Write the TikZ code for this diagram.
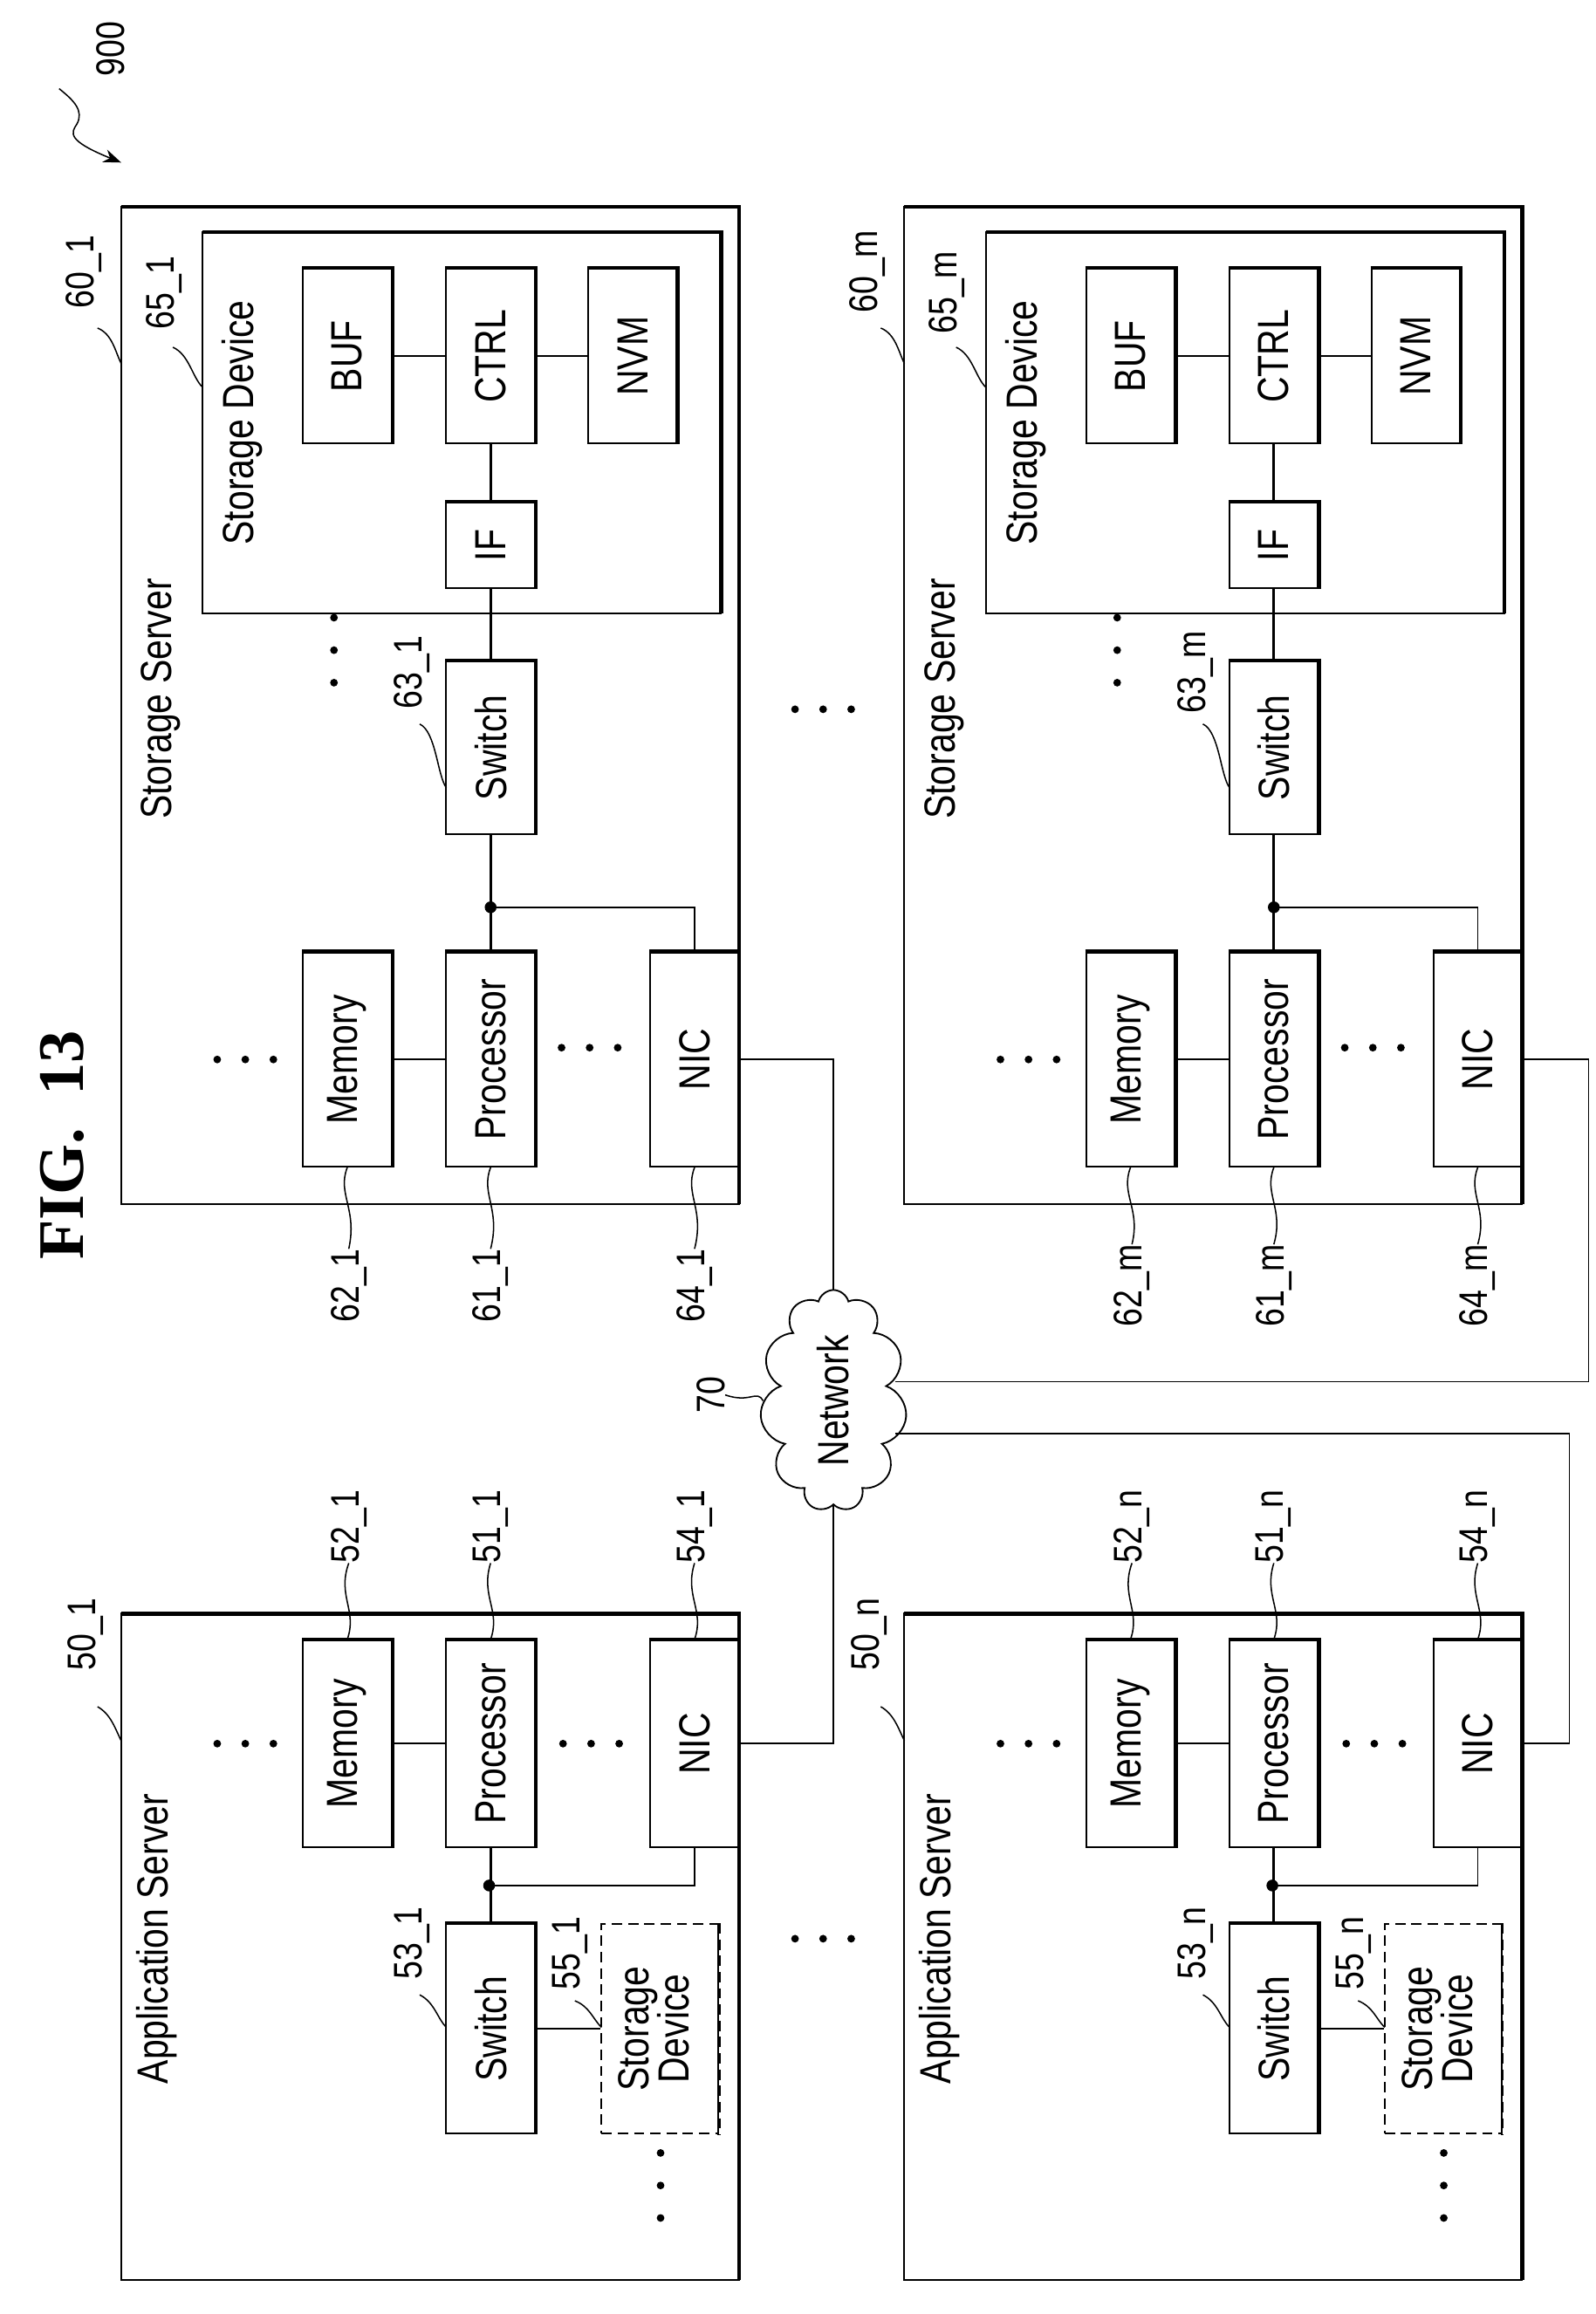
\documentclass[tikz,border=0pt]{standalone}
\usepackage{fontspec}
\setmainfont{Liberation Sans}[FakeStretch=0.82]
\newfontfamily\figfont{Liberation Serif}
\usetikzlibrary{shapes.symbols,arrows.meta}
\newcommand\thk[1]{\draw[line width=2.6] (#1.north west)--(#1.north east)--(#1.south east);}
\newcommand\tdots[2]{\fill (#1-19,#2) circle (2.6) (#1,#2) circle (2.6) (#1+19,#2) circle (2.6);}
\newcommand\vdt[2]{\fill (#1,#2-22) circle (2.6) (#1,#2) circle (2.6) (#1,#2+22) circle (2.6);}
\begin{document}
\begin{tikzpicture}[x=1pt,y=-1pt,font=\fontsize{29.5}{31}\selectfont,
 comp/.style={draw,line width=1.2,inner sep=0,minimum width=60},
 lab/.style={inner sep=0,font=\fontsize{27}{29}\selectfont},
 lead/.style={line width=0.9},
 ln/.style={line width=1.1}]
\useasboundingbox[fill=white] (0,0) rectangle (1080,1566);
% title
\node[font=\figfont\bfseries\fontsize{44}{46}\selectfont,rotate=90] (fig) at (42,775) {FIG.~~13};
\node[lab,rotate=90] (l900) at (75,33) {900};
\coordinate (a900) at (82,110);
\draw[lead,-{Stealth[length=12,width=9]}] (40,60) .. controls (50,68) and (57,75) .. (52,84) .. controls (48,90) and (45,95) .. (a900);
% ---------- storage servers ----------
\foreach \o/\s in {0/1,530/m}{
\begin{scope}[xshift=\o]
 \draw[line width=1.2] (82,140) rectangle (500,815);
 \draw[line width=2.6] (82,140)--(500,140)--(500,815);
 \draw[line width=1.2] (137,157) rectangle (488,415);
 \draw[line width=2.6] (137,157)--(488,157)--(488,415);
 \node[comp,minimum height=118] (buf\s) at (235,241) {\rotatebox{90}{BUF}};
 \node[comp,minimum height=118] (ctrl\s) at (332,241) {\rotatebox{90}{CTRL}};
 \node[comp,minimum height=118] (nvm\s) at (428,241) {\rotatebox{90}{NVM}};
 \node[comp,minimum height=58] (if\s) at (332,369) {\rotatebox{90}{IF}};
 \node[comp,minimum height=117] (sw\s) at (332,506) {\rotatebox{90}{Switch}};
 \node[comp,minimum height=145] (mem\s) at (235,717) {\rotatebox{90}{Memory}};
 \node[comp,minimum height=145] (proc\s) at (332,717) {\rotatebox{90}{Processor}};
 \node[comp,minimum height=145] (nic\s) at (470,717) {\rotatebox{90}{NIC}};
 \thk{buf\s}\thk{ctrl\s}\thk{nvm\s}\thk{if\s}\thk{sw\s}\thk{mem\s}\thk{proc\s}
 \draw[line width=2.6] (nic\s.north west)--(nic\s.north east);
 \coordinate (dt\s) at (332,614);
 \draw[ln] (buf\s.east)--(ctrl\s.west) (ctrl\s.east)--(nvm\s.west) (mem\s.east)--(proc\s.west);
 \draw[line width=1.6] (ctrl\s.south)--(if\s.north) (if\s.south)--(sw\s.north) (sw\s.south)--(proc\s.north);
 \draw[ln] (dt\s) -| (nic\s.north);
 \fill (dt\s) circle (4);
 \node[rotate=90] (ss\s) at (109,473) {Storage Server};
 \node[rotate=90] (sd\s) at (164,286) {Storage Device};
 \tdots{166}{717}\tdots{399}{709}\vdt{226}{440}
 \node[lab,rotate=90] (l60\s) at (57,184) {60\_\s};
 \draw[lead] (66,222) .. controls (76,226) and (78,238) .. (82,246);
 \node[lab,rotate=90] (l65\s) at (111,198) {65\_\s};
 \draw[lead] (117,235) .. controls (128,240) and (130,255) .. (137,262);
 \node[lab,rotate=90] (l63\s) at (279,455) {63\_\s};
 \draw[lead] (284,490) .. controls (295,495) and (296,525) .. (302,533);
 \node[lab,rotate=90] (l62\s) at (236,870) {62\_\s};
 \node[lab,rotate=90] (l61\s) at (332,870) {61\_\s};
 \node[lab,rotate=90] (l64\s) at (470,870) {64\_\s};
 \draw[lead] (mem\s.south) .. controls (228,808) and (242,818) .. (l62\s.east);
 \draw[lead] (proc\s.south) .. controls (325,808) and (339,818) .. (l61\s.east);
 \draw[lead] (nic\s.south) .. controls (463,808) and (477,818) .. (l64\s.east);
\end{scope}}
% ---------- application servers ----------
\foreach \o/\s in {0/1,530/n}{
\begin{scope}[xshift=\o]
 \draw[line width=1.2] (82,1092) rectangle (500,1543);
 \draw[line width=2.6] (82,1092)--(500,1092)--(500,1543);
 \node[comp,minimum height=140] (amem\s) at (235,1180) {\rotatebox{90}{Memory}};
 \node[comp,minimum height=140] (aproc\s) at (332,1180) {\rotatebox{90}{Processor}};
 \node[comp,minimum height=140] (anic\s) at (470,1180) {\rotatebox{90}{NIC}};
 \node[comp,minimum height=142] (asw\s) at (332,1373) {\rotatebox{90}{Switch}};
 \node[draw,dash pattern=on 7 off 4,line width=1.1,inner sep=0,minimum width=79,minimum height=142] (asd\s) at (446.5,1373) {\rotatebox{90}{\begin{tabular}{@{}c@{}}Storage\\[-4pt]Device\end{tabular}}};
 \draw[line width=2.2,dash pattern=on 7 off 4] (asd\s.north east)--(asd\s.south east);
 \thk{amem\s}\thk{aproc\s}\thk{asw\s}
 \draw[line width=2.6] (anic\s.north west)--(anic\s.north east);
 \coordinate (adt\s) at (331,1276);
 \draw[ln] (amem\s.east)--(aproc\s.west);
 \draw[line width=1.6] (aproc\s.south)--(asw\s.north);
 \draw[ln] (adt\s) -| (anic\s.south);
 \draw[ln] (asw\s.east)--(asd\s.west);
 \fill (adt\s) circle (4);
 \node[rotate=90] (as\s) at (106,1312) {Application Server};
 \tdots{166}{1180}\tdots{400}{1180}\vdt{447}{1479}
 \node[lab,rotate=90] (l50\s) at (58,1106) {50\_\s};
 \draw[lead] (66,1155) .. controls (75,1160) and (78,1170) .. (82,1178);
 \node[lab,rotate=90] (l52\s) at (236,1033) {52\_\s};
 \node[lab,rotate=90] (l51\s) at (332,1033) {51\_\s};
 \node[lab,rotate=90] (l54\s) at (470,1033) {54\_\s};
 \draw[lead] (l52\s.west) .. controls (228,1080) and (242,1090) .. (amem\s.north);
 \draw[lead] (l51\s.west) .. controls (325,1080) and (339,1090) .. (aproc\s.north);
 \draw[lead] (l54\s.west) .. controls (463,1080) and (477,1090) .. (anic\s.north);
 \node[lab,rotate=90] (l53\s) at (279,1315) {53\_\s};
 \draw[lead] (284,1350) .. controls (294,1355) and (296,1366) .. (302,1372);
 \node[lab,rotate=90] (l55\s) at (386,1322) {55\_\s};
 \draw[lead] (389,1354) .. controls (399,1358) and (401,1366) .. (407,1372);
\end{scope}}
% between-column dots
\tdots{557}{480}\tdots{557}{1312}
% network
\node[cloud,draw,line width=1.1,cloud puffs=11,aspect=0.6,minimum width=88,minimum height=150,inner sep=0] (net) at (564,948) {\rotatebox{90}{Network}};
\node[lab,rotate=90] (l70) at (481,944) {70};
\draw[lead] (l70.south) .. controls (508,950) and (512,940) .. (net.west);
\coordinate (nA) at (606,935);
\coordinate (nB) at (606,970);
\draw[ln] (nic1.east) -| (net.north);
\draw[ln] (anic1.east) -| (net.south);
\draw[ln] (nicm.east) -- (1075,717) -- (1075,935) -- (nA);
\draw[ln] (anicn.east) -- (1062,1180) -- (1062,970) -- (nB);
\end{tikzpicture}
\end{document}
